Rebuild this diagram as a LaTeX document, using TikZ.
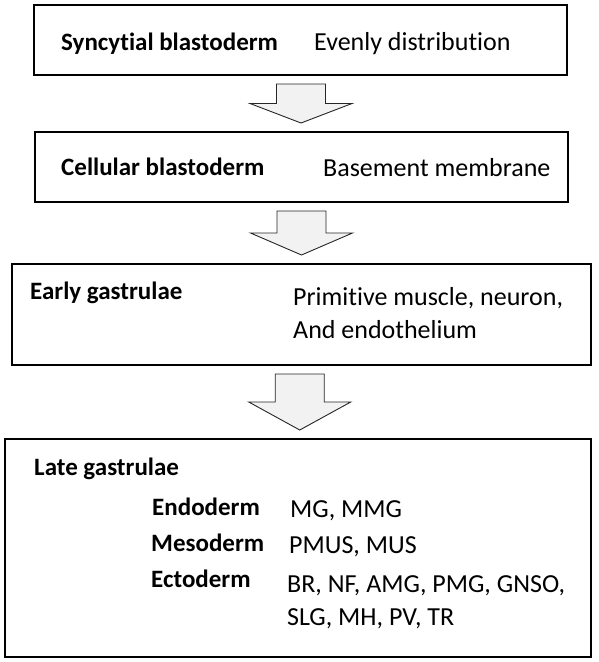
\documentclass[tikz,border=0pt]{standalone}
\usepackage{fontspec}
\setmainfont[Ligatures=NoCommon]{Carlito}
\usetikzlibrary{calc}
\newcommand\blockdown[2]{%
  \coordinate (m) at ($(#1.south)!0.5!(#2.north)$);
  \coordinate (t) at ($(m |- #1.south)+(0,8)$);
  \coordinate (p) at ($(m |- #2.north)+(0,-8)$);
  \draw[blockarrow] ($(t)+(-24.5,0)$) -- ($(t)+(24.5,0)$) -- ($(m)+(24.5,0)$) -- ($(m)+(51,0)$) -- (p) -- ($(m)+(-51,0)$) -- ($(m)+(-24.5,0)$) -- cycle;%
}
\begin{document}
\begin{tikzpicture}[x=1pt,y=-1pt,
  stage/.style={draw=black, line width=2pt, inner sep=0pt, fill=white},
  blockarrow/.style={draw=black!85, line width=0.9pt, fill=black!5, line join=miter},
  lab/.style={anchor=base west, inner sep=0pt, font=\fontsize{25}{30}\selectfont\bfseries},
  txt/.style={anchor=base west, inner sep=0pt, font=\fontsize{26}{31}\selectfont},
]
\useasboundingbox (0,0) rectangle (598,662);
\node[stage, minimum width=533pt, minimum height=70pt] (b1) at (300.5,40) {};
\node[stage, minimum width=533pt, minimum height=70pt] (b2) at (301.5,167) {};
\node[stage, minimum width=579pt, minimum height=101pt] (b3) at (301.5,314.5) {};
\node[stage, minimum width=586pt, minimum height=218pt] (b4) at (298,548) {};
\blockdown{b1}{b2}
\blockdown{b2}{b3}
\blockdown{b3}{b4}
\node[lab] (s1) at (61,50) {Syncytial blastoderm};
\node[txt] (d1) at (314,50) {Evenly distribution};
\node[lab] (s2) at (61,175) {Cellular blastoderm};
\node[txt] (d2) at (323,176) {Basement membrane};
\node[lab] (s3) at (30,299) {Early gastrulae};
\node[txt] (d3a) at (293,305) {Primitive muscle, neuron,};
\node[txt] (d3b) at (293,338) {And endothelium};
\node[lab] (s4) at (34,475) {Late gastrulae};
\node[lab] (en) at (152,515) {Endoderm};
\node[txt] (env) at (290,517) {MG, MMG};
\node[lab] (me) at (151,551) {Mesoderm};
\node[txt] (mev) at (289,553) {PMUS, MUS};
\node[lab] (ec) at (151,587) {Ectoderm};
\node[txt] (ecv1) at (287,592) {BR, NF, AMG, PMG, GNSO,};
\node[txt] (ecv2) at (287,625) {SLG, MH, PV, TR};
\end{tikzpicture}
\end{document}
